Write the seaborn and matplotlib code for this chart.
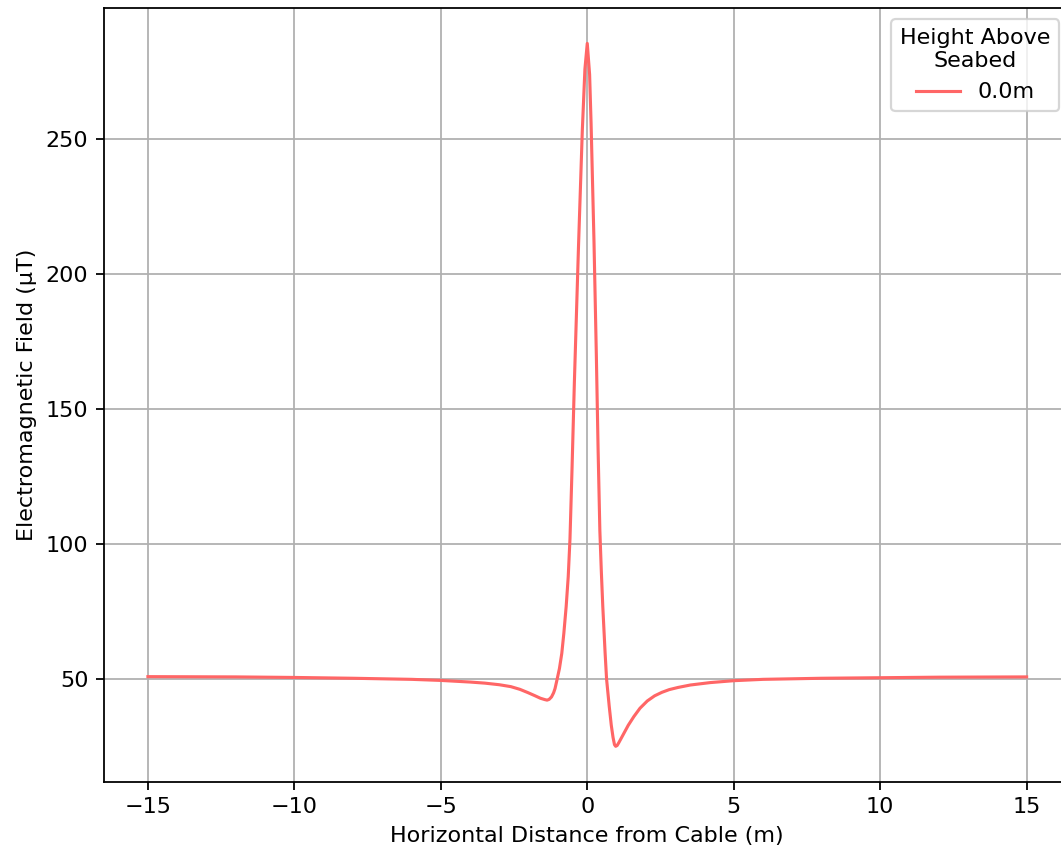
import numpy as np
import matplotlib
matplotlib.use('Agg')
import matplotlib.pyplot as plt
import seaborn as sns
import pandas as pd

# values
distance = [-15, -12, -10, -8, -6, -5, -4, -3.5, -3, -2.61, -2.3, -2.03, -1.8, -1.6,
            -1.45, -1.37, -1.3, -1.22, -1.15, -1.1, -1.04, -0.95, -0.87, -0.8, -0.72,
            -0.65, -0.59, -0.52, -0.44, -0.3, -0.17, -0.08, 0, 0.08, 0.13, 0.23, 0.31,
            0.37, 0.43, 0.48, 0.53, 0.61, 0.66, 0.75, 0.82, 0.88, 0.93, 0.97, 1.02, 1.08,
            1.15, 1.25, 1.4, 1.59, 1.8, 2.05, 2.3, 2.55, 2.8, 3.1, 3.52, 4.2, 5, 6, 8,
            10, 12, 15]
emf = [51.0, 50.9, 50.7, 50.4, 50.0, 49.6, 49.0, 48.6, 48.0, 47.3, 46.3, 45.1, 44.0, 43.0,
       42.5, 42.3, 42.6, 43.5, 45.0, 46.6, 49.5, 54.0, 59.6, 67.0, 77.0,
       88.0, 102.0, 128.0, 160.0, 210.0, 253.0, 276.0, 285.5, 274.0, 256.0, 212.0, 170.0,
       135.0, 105.0, 90.0, 77.0, 59.6, 50.0, 40.0, 33.0, 28.5, 25.8, 25.2, 25.5, 26.6,
       28.0, 30.0, 33.0, 36.2, 39.3, 42.0, 43.9, 45.2, 46.2, 47.0, 47.9, 48.8, 49.5, 50.0, 50.4,
       50.6, 50.8, 50.9]
height_label = '0.0m'

df = pd.DataFrame({'Horizontal Distance from Cable (m)': distance,
                   'Electromagnetic Field (µT)': emf,
                   'Height Above Seabed': height_label})

fig = plt.figure(figsize=(1061/160, 853/160), dpi=160)
ax = fig.add_axes([0.098, 0.0836, 0.911, 0.907])
sns.lineplot(data=df, x='Horizontal Distance from Cable (m)', y='Electromagnetic Field (µT)',
             hue='Height Above Seabed', palette=['#ff6666'], linewidth=1.4, ax=ax)
ax.grid(True)
ax.set_xlim(-16.5, 16.5)
ax.set_ylim(12.1, 298.6)
ax.set_xticks([-15, -10, -5, 0, 5, 10, 15])
ax.set_yticks([50, 100, 150, 200, 250])
leg = ax.legend(title='Height Above\nSeabed', loc='upper right')
leg.get_title().set_multialignment('center')
fig.savefig('out.png', dpi=160)
